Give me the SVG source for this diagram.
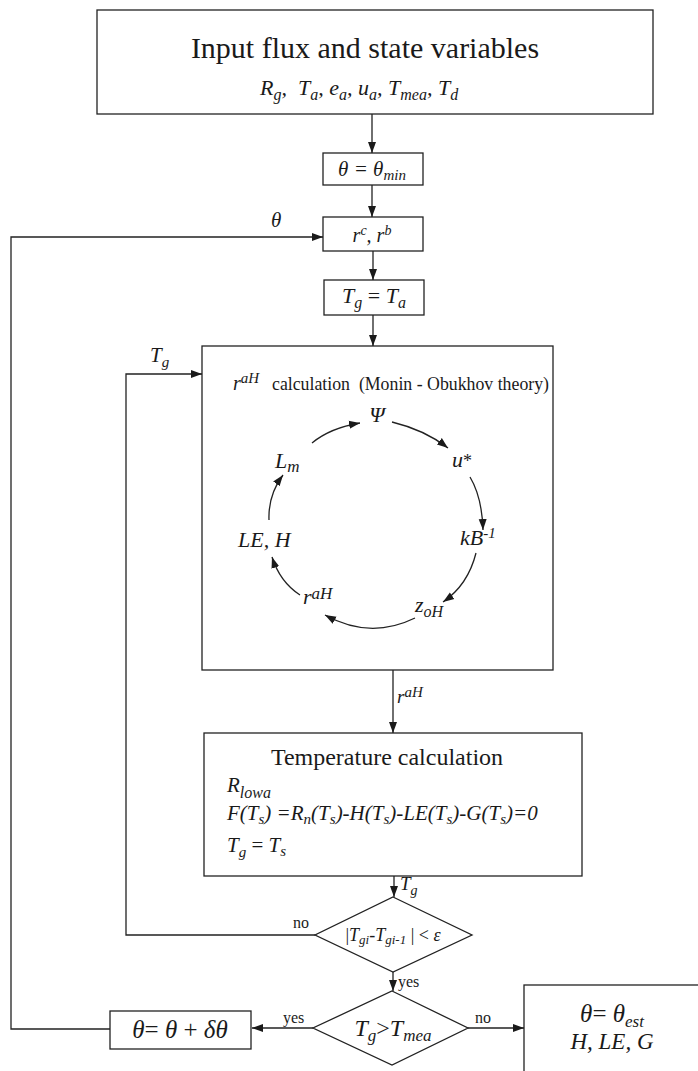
<svg xmlns="http://www.w3.org/2000/svg" width="698" height="1071" viewBox="0 0 698 1071">
<style>
.box{fill:#fff;stroke:#222;stroke-width:1.3}
.ln{fill:none;stroke:#222;stroke-width:1.3}
.arr{marker-end:url(#ah)}
text{font-family:'Liberation Serif','Times New Roman',serif;fill:#1a1a1a}
.i{font-style:italic}
.lbl{font-size:16px}
.node{font-size:22px;font-style:italic}
</style>
<defs>
<marker id="ah" markerWidth="12" markerHeight="10" refX="11" refY="5" orient="auto" markerUnits="userSpaceOnUse">
<path d="M0,1 L11,5 L0,9 Z" fill="#1a1a1a"/>
</marker>
</defs>
<rect width="698" height="1071" fill="#fff"/>

<g id="input">
<rect class="box" x="97" y="10" width="556" height="104"/>
<text x="365" y="58" text-anchor="middle" font-size="30">Input flux and state variables</text>
<text class="i" x="260" y="95" font-size="22">R<tspan dy="5" font-size="16">g</tspan><tspan dy="-5">,&#160; T</tspan><tspan dy="5" font-size="16">a</tspan><tspan dy="-5">, e</tspan><tspan dy="5" font-size="16">a</tspan><tspan dy="-5">, u</tspan><tspan dy="5" font-size="16">a</tspan><tspan dy="-5">, T</tspan><tspan dy="5" font-size="16">mea</tspan><tspan dy="-5">, T</tspan><tspan dy="5" font-size="16">d</tspan></text>
</g>

<g id="theta-min">
<rect class="box" x="323" y="153" width="100" height="32"/>
<text class="i" x="372" y="176" text-anchor="middle" font-size="21">θ = θ<tspan dy="4" font-size="15">min</tspan></text>
</g>

<g id="rc-rb">
<rect class="box" x="323" y="217" width="100" height="34"/>
<text class="i" x="372" y="242" text-anchor="middle" font-size="20">r<tspan dy="-7" font-size="14">c</tspan><tspan dy="7">, r</tspan><tspan dy="-7" font-size="14">b</tspan></text>
</g>

<g id="tg-ta">
<rect class="box" x="324" y="280" width="100" height="35"/>
<text class="i" x="374" y="303" text-anchor="middle" font-size="22">T<tspan dy="5" font-size="16">g</tspan><tspan dy="-5" font-style="normal"> = </tspan>T<tspan dy="5" font-size="16">a</tspan></text>
</g>

<g id="rah-calc">
<rect class="box" x="202" y="346" width="351" height="324"/>
<text x="233" y="390" font-size="17.8"><tspan class="i" font-size="20">r</tspan><tspan class="i" dy="-7" font-size="15">aH</tspan><tspan x="272" dy="7">calculation&#160;&#160;(Monin - Obukhov theory)</tspan></text>
</g>

<g id="psi"><text class="node" x="377" y="422" text-anchor="middle">Ψ</text></g>
<g id="ustar"><text class="node" x="452" y="467">u<tspan font-size="18" font-style="normal">*</tspan></text></g>
<g id="kb"><text class="node" x="460" y="545">kB<tspan dy="-7" font-size="15">-1</tspan></text></g>
<g id="zoh"><text class="node" x="415" y="612">z<tspan dy="5" font-size="16">oH</tspan></text></g>
<g id="rah"><text class="node" x="303" y="604">r<tspan dy="-5" font-size="17">aH</tspan></text></g>
<g id="leh"><text class="node" x="238" y="547">LE, H</text></g>
<g id="lm"><text class="node" x="275" y="468">L<tspan dy="4" font-size="17">m</tspan></text></g>

<g id="temp-calc">
<rect class="box" x="204" y="733" width="378" height="143"/>
<text x="387" y="765" text-anchor="middle" font-size="24">Temperature calculation</text>
<text class="i" x="227" y="792" font-size="21">R<tspan dy="6" font-size="16">lowa</tspan></text>
<text class="i" x="227" y="820" font-size="21">F(T<tspan dy="4" font-size="15">s</tspan><tspan dy="-4">) =R</tspan><tspan dy="4" font-size="15">n</tspan><tspan dy="-4">(T</tspan><tspan dy="4" font-size="15">s</tspan><tspan dy="-4">)-H(T</tspan><tspan dy="4" font-size="15">s</tspan><tspan dy="-4">)-LE(T</tspan><tspan dy="4" font-size="15">s</tspan><tspan dy="-4">)-G(T</tspan><tspan dy="4" font-size="15">s</tspan><tspan dy="-4">)=0</tspan></text>
<text class="i" x="227" y="852" font-size="21">T<tspan dy="5" font-size="15">g</tspan><tspan dy="-5" font-style="normal"> = </tspan>T<tspan dy="4" font-size="15">s</tspan></text>
</g>

<g id="converge">
<polygon class="box" points="393,897 472,935 393,972 315,935"/>
<text class="i" x="393" y="941" text-anchor="middle" font-size="18"><tspan font-style="normal">|</tspan>T<tspan dy="3" font-size="13">gi</tspan><tspan dy="-3">-T</tspan><tspan dy="3" font-size="13">gi-1</tspan><tspan dy="-3" font-style="normal"> | &lt; </tspan>ε</text>
</g>

<g id="compare">
<polygon class="box" points="392,991 468,1028 392,1065 313,1028"/>
<text class="i" x="393" y="1036" text-anchor="middle" font-size="24">T<tspan dy="5" font-size="17">g</tspan><tspan dy="-5" font-style="normal">&gt;</tspan>T<tspan dy="5" font-size="17">mea</tspan></text>
</g>

<g id="theta-inc">
<rect class="box" x="110" y="1011" width="141" height="38"/>
<text class="i" x="180" y="1038" text-anchor="middle" font-size="25">θ<tspan font-style="normal">= </tspan>θ<tspan font-style="normal"> + </tspan>δθ</text>
</g>

<g id="result">
<rect class="box" x="524" y="985" width="190" height="100"/>
<text class="i" x="612" y="1022" text-anchor="middle" font-size="25">θ<tspan font-style="normal">= </tspan>θ<tspan dy="5" font-size="17">est</tspan></text>
<text class="i" x="612" y="1049" text-anchor="middle" font-size="23">H, LE, G</text>
</g>

<g id="connectors">
<path class="ln arr" d="M372,114 V153"/>
<path class="ln arr" d="M372,185 V217"/>
<path class="ln arr" d="M373,251 V280"/>
<path class="ln arr" d="M373,315 V346"/>
<path class="ln arr" d="M393,670 V733"/>
<path class="ln arr" d="M394,876 V897"/>
<path class="ln arr" d="M393,972 V991"/>
<path class="ln arr" d="M313,1028 H252"/>
<path class="ln arr" d="M468,1028 H524"/>
<path class="ln arr" d="M315,935 H126 V374 H202"/>
<path class="ln arr" d="M110,1029 H11 V237 H323"/>
<path class="ln arr" d="M312,443 Q330,428 360,423"/>
<path class="ln arr" d="M392,422 Q425,430 448,448"/>
<path class="ln arr" d="M470,477 Q482,497 483,530"/>
<path class="ln arr" d="M476,553 Q468,585 443,602"/>
<path class="ln arr" d="M415,618 Q370,640 325,615"/>
<path class="ln arr" d="M300,595 Q280,582 272,557"/>
<path class="ln arr" d="M269,520 Q268,495 283,475"/>
<text class="i" x="271" y="227" font-size="21">θ</text>
<text class="i" x="150" y="362" font-size="21">T<tspan dy="5" font-size="15">g</tspan></text>
<text class="i" x="397" y="703" font-size="19">r<tspan dy="-6" font-size="15">aH</tspan></text>
<text class="i" x="400" y="890" font-size="19">T<tspan dy="5" font-size="14">g</tspan></text>
<text class="lbl" x="293" y="928">no</text>
<text class="lbl" x="398" y="987">yes</text>
<text class="lbl" x="283" y="1023">yes</text>
<text class="lbl" x="475" y="1023">no</text>
</g>
</svg>
